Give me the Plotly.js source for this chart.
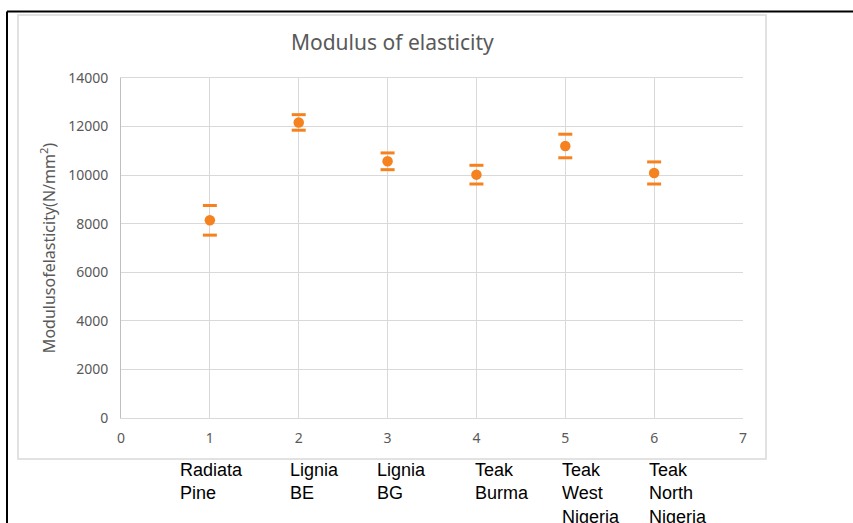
<!DOCTYPE html>
<html>
<head>
<meta charset="utf-8">
<script src="https://cdn.plot.ly/plotly-3.0.1.min.js"></script>
<style>html,body{margin:0;padding:0;background:#fff;}#chart{width:853px;height:523px;}</style>
</head>
<body>
<div id="chart"></div>
<script>
// ---- data ----
const positions = [1, 2, 3, 4, 5, 6];
const categories = ["Radiata<br>Pine", "Lignia<br>BE", "Lignia<br>BG", "Teak<br>Burma", "Teak<br>West<br>Nigeria", "Teak<br>North<br>Nigeria"];
const meanMOE = [8140, 12170, 10570, 10020, 11200, 10090];
const sdMOE = [610, 320, 345, 385, 485, 455];
const yTicks = [0, 2000, 4000, 6000, 8000, 10000, 12000, 14000];
const xTicks = [0, 1, 2, 3, 4, 5, 6, 7];

// ---- layout helpers ----
const W = 853, H = 523;
const plotL = 121, plotR = 743, plotT = 78, plotB = 418;
const px = x => (x - plotL) / (plotR - plotL);
const py = y => (plotB - y) / (plotB - plotT);
const labelShifts = [-32, -11, -13, -3, -5, -7];

const orange = '#F5821F';
const grey = '#595959';
const font = '"Noto Sans", "Open Sans", sans-serif';

const upper = meanMOE.map((m, i) => m + sdMOE[i]);
const lower = meanMOE.map((m, i) => m - sdMOE[i]);

const traces = [
  {
    x: positions, y: meanMOE, type: 'scatter', mode: 'markers',
    marker: {color: orange, size: 10.5},
    error_y: {type: 'data', array: sdMOE, visible: true, color: 'rgba(245,130,31,0.15)', thickness: 0.5, width: 0},
    hoverinfo: 'x+y'
  },
  {
    x: positions, y: upper, type: 'scatter', mode: 'markers',
    marker: {symbol: 'line-ew-open', size: 10, color: orange, line: {color: orange, width: 3}},
    hoverinfo: 'skip'
  },
  {
    x: positions, y: lower, type: 'scatter', mode: 'markers',
    marker: {symbol: 'line-ew-open', size: 10, color: orange, line: {color: orange, width: 3}},
    hoverinfo: 'skip'
  }
];

const annotations = categories.map((c, i) => ({
  x: positions[i], xref: 'x', y: py(458), yref: 'paper',
  text: c, showarrow: false, xanchor: 'left', yanchor: 'top', align: 'left',
  xshift: labelShifts[i],
  font: {family: 'Liberation Sans, Arial, sans-serif', size: 18, color: '#000'}
}));

const shapes = [
  {type: 'rect', xref: 'paper', yref: 'paper', x0: px(18), x1: px(766), y0: py(459), y1: py(15),
   line: {color: '#d9d9d9', width: 1.5}, fillcolor: 'rgba(0,0,0,0)', layer: 'below'},
  {type: 'line', xref: 'paper', yref: 'paper', x0: px(7), x1: px(853), y0: py(11.5), y1: py(11.5),
   line: {color: '#000', width: 2}},
  {type: 'line', xref: 'paper', yref: 'paper', x0: px(7), x1: px(7), y0: py(11.5), y1: py(523),
   line: {color: '#000', width: 2}}
];

const layout = {
  width: W, height: H,
  margin: {l: plotL, r: W - plotR, t: plotT, b: H - plotB, pad: 0},
  paper_bgcolor: '#fff', plot_bgcolor: '#fff',
  showlegend: false,
  title: {text: 'Modulus of elasticity', x: 0.46, xanchor: 'center', y: 1 - 43 / H, yanchor: 'middle',
          font: {family: font, size: 21, color: grey}},
  xaxis: {
    range: [0, 7], tickvals: xTicks, ticktext: xTicks.map(String),
    showgrid: true, gridcolor: '#d9d9d9', gridwidth: 1,
    zeroline: false, showline: true, linecolor: '#d9d9d9', linewidth: 1, mirror: true,
    ticks: 'outside', ticklen: 7, tickcolor: 'rgba(0,0,0,0)',
    tickfont: {family: font, size: 14, color: grey}
  },
  yaxis: {
    range: [0, 14000], tickvals: yTicks, ticktext: yTicks.map(String),
    showgrid: true, gridcolor: '#d9d9d9', gridwidth: 1,
    zeroline: false, showline: true, linecolor: '#bfbfbf', linewidth: 1,
    ticks: 'outside', ticklen: 9, tickcolor: 'rgba(0,0,0,0)',
    tickfont: {family: font, size: 14, color: grey},
    title: {text: 'Modulusofelasticity(N/mm<sup>2</sup>)', standoff: 8,
            font: {family: font, size: 16, color: grey}}
  },
  annotations: annotations,
  shapes: shapes
};

Plotly.newPlot('chart', traces, layout, {staticPlot: true, displayModeBar: false});
</script>
</body>
</html>
